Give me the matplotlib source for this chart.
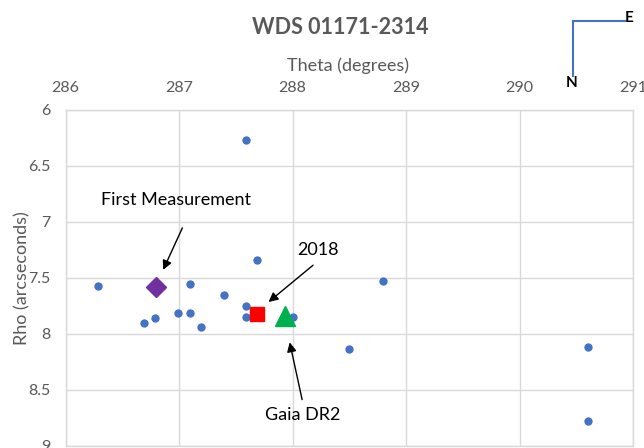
import matplotlib
matplotlib.use("Agg")
import matplotlib.pyplot as plt
from matplotlib.lines import Line2D
from matplotlib.ticker import FuncFormatter

# measurements (theta in degrees, rho in arcseconds)
theta = [286.29, 287.10, 287.40, 287.59, 287.69, 287.59, 287.59, 288.00,
         286.99, 287.10, 286.79, 286.69, 287.19, 288.80, 288.50, 290.60, 290.60]
rho = [7.57, 7.55, 7.65, 6.27, 7.34, 7.75, 7.85, 7.85,
       7.81, 7.81, 7.86, 7.90, 7.94, 7.53, 8.13, 8.12, 8.78]

first_theta, first_rho = 286.80, 7.58
latest_theta, latest_rho = 287.69, 7.82
gaia_theta, gaia_rho = 287.93, 7.84

plt.rcParams["font.family"] = ["Lato", "DejaVu Sans"]

W, H = 644.0, 448.0
fig = plt.figure(figsize=(6.44, 4.48), dpi=100)
ax = fig.add_axes([65.5 / W, 2 / H, 567.5 / W, 336 / H])

# observed points
ax.scatter(theta, rho, s=36, color="#4472C4", zorder=3, linewidths=0)
# special points
ax.plot(first_theta, first_rho, marker="D", markersize=10, color="#7030A0", zorder=4)
ax.plot(latest_theta, latest_rho, marker="s", markersize=10, color="#FF0000", zorder=4)
ax.plot(gaia_theta, gaia_rho, marker="^", markersize=14, color="#00B050", zorder=4)

# axes setup
ax.set_xlim(286, 291)
ax.set_ylim(9, 6)
ax.set_xticks([286, 287, 288, 289, 290, 291])
ax.set_yticks([6, 6.5, 7, 7.5, 8, 8.5, 9])
ax.yaxis.set_major_formatter(FuncFormatter(lambda v, p: "%g" % v))
ax.xaxis.tick_top()
ax.tick_params(length=0, labelsize=11.5, colors="#595959")
ax.tick_params(axis="x", pad=11)
ax.tick_params(axis="y", pad=11)
ax.grid(True, color="#D9D9D9", linewidth=1)
ax.set_axisbelow(True)
for s in ax.spines.values():
    s.set_color("#D9D9D9")
    s.set_linewidth(1)

# titles
fig.text(340 / W, 1 - 28 / H, "WDS 01171-2314", ha="center", va="center",
         fontsize=15.5, fontweight="bold", color="#595959")
fig.text(348 / W, 1 - 66 / H, "Theta (degrees)", ha="center", va="center",
         fontsize=13, color="#595959")
fig.text(22 / W, 1 - 278 / H, "Rho (arcseconds)", ha="center", va="center",
         rotation=90, fontsize=13, color="#595959")

# labels and arrows
ax.text(286.97, 6.80, "First Measurement", ha="center", va="center", fontsize=13)
ax.annotate("", xy=(286.85, 7.45), xytext=(287.04, 7.03),
            arrowprops=dict(arrowstyle="-|>", color="black", lw=1, mutation_scale=14))
ax.text(288.22, 7.25, "2018", ha="center", va="center", fontsize=13)
ax.annotate("", xy=(287.77, 7.73), xytext=(288.20, 7.37),
            arrowprops=dict(arrowstyle="-|>", color="black", lw=1, mutation_scale=14))
ax.text(288.09, 8.72, "Gaia DR2", ha="center", va="center", fontsize=13)
ax.annotate("", xy=(287.97, 8.05), xytext=(288.09, 8.61),
            arrowprops=dict(arrowstyle="-|>", color="black", lw=1, mutation_scale=14))

# compass in the top right corner
fig.add_artist(Line2D([573 / W, 573 / W], [1 - 21 / H, 1 - 76 / H], color="#4472C4", lw=1.5))
fig.add_artist(Line2D([573 / W, 625 / W], [1 - 21 / H, 1 - 21 / H], color="#4472C4", lw=1.5))
fig.text(629 / W, 1 - 18 / H, "E", ha="center", va="center", fontsize=11, fontweight="bold")
fig.text(572 / W, 1 - 83 / H, "N", ha="center", va="center", fontsize=11, fontweight="bold")

fig.savefig("out.png", dpi=100)
